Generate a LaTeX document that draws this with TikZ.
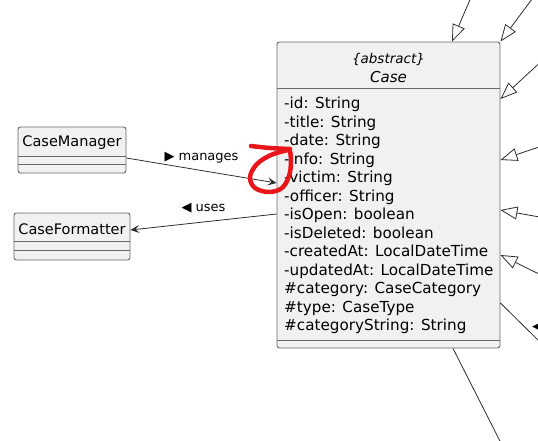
\documentclass[tikz,border=0pt]{standalone}
\usepackage{fontspec}
\setmainfont{DejaVu Sans}
\usepackage{tikz}
\usetikzlibrary{arrows.meta}

\definecolor{classfill}{RGB}{241,241,241}
\definecolor{classborder}{RGB}{105,105,105}
\definecolor{linkgray}{RGB}{45,45,45}
\definecolor{markred}{RGB}{232,22,27}

\begin{document}
\begin{tikzpicture}[x=1pt,y=-1pt,
		classbox/.style={shape=rectangle,draw=classborder,fill=classfill,rounded corners=2.5pt,line width=0.9pt,inner sep=0pt},
		classname/.style={font=\fontsize{14.5}{17}\selectfont,inner sep=0pt},
		compartment/.style={draw=classborder,line width=0.9pt},
		assoc/.style={draw=linkgray,line width=0.8pt,-{Stealth[length=9pt,width=8pt,inset=4pt]}},
		inherit/.style={draw=linkgray,line width=0.8pt,-{Triangle[length=17pt,width=13pt,fill=white]}},
		plainlink/.style={draw=linkgray,line width=0.8pt},
		linklabel/.style={font=\fontsize{13}{15}\selectfont,inner sep=1pt}]
			\clip (0,0) rectangle (538,441);

			% classes
			\node[classbox,minimum width=223pt,minimum height=306pt] (case) at (388.5,195) {};
			\node[classname,font=\fontsize{13.5}{16}\selectfont\itshape] (stereo) at (388.5,59) {\{abstract\}};
			\node[classname,font=\fontsize{15}{18}\selectfont\itshape] (casename) at (388.5,77) {Case};
			\node[anchor=north west,align=left,inner sep=0pt,font=\fontsize{15.2}{18.5}\selectfont] (fields) at (284,97)
				{-id: String\\-title: String\\-date: String\\-info: String\\-victim: String\\-officer: String\\-isOpen: boolean\\-isDeleted: boolean\\-createdAt: LocalDateTime\\-updatedAt: LocalDateTime\\\#category: CaseCategory\\\#type: CaseType\\\#categoryString: String};
			\draw[compartment] ([yshift=-47pt]case.north west) -- ([yshift=-47pt]case.north east);
			\draw[compartment] ([yshift=8pt]case.south west) -- ([yshift=8pt]case.south east);

			\node[classbox,minimum width=108pt,minimum height=46pt] (manager) at (72,150) {};
			\node[classname] (managername) at (72,143) {CaseManager};
			\draw[compartment] ([yshift=-30pt]manager.north west) -- ([yshift=-30pt]manager.north east);
			\draw[compartment] ([yshift=-38pt]manager.north west) -- ([yshift=-38pt]manager.north east);

			\node[classbox,minimum width=116pt,minimum height=47pt] (formatter) at (72,236.5) {};
			\node[classname] (formattername) at (72,229) {CaseFormatter};
			\draw[compartment] ([yshift=-29pt]formatter.north west) -- ([yshift=-29pt]formatter.north east);
			\draw[compartment] ([yshift=-38pt]formatter.north west) -- ([yshift=-38pt]formatter.north east);

			% associations
			\draw [assoc] ([yshift=-8pt]manager.east) -- node[linklabel,above=6pt] {▶ manages} ([yshift=12pt]case.west);
			\draw [assoc] ([yshift=-19pt]case.west) -- node[linklabel,above=8pt] {◀ uses} ([yshift=6.5pt]formatter.east);

			% subclasses and links outside the view
			\coordinate (sub1) at (472,-5);
			\coordinate (sub2) at (535,-5);
			\coordinate (sub3) at (545,58);
			\coordinate (sub4) at (545,145);
			\coordinate (sub5) at (545,218);
			\coordinate (sub6) at (545,277);
			\coordinate (link1) at (545,347);
			\coordinate (link2) at (505,451);

			\draw [inherit] (sub1) -- ([xshift=63.5pt]case.north);
			\draw [inherit] (sub2) -- (case.north east);
			\draw [inherit] (sub3) -- ([yshift=96pt]case.east);
			\draw [inherit] (sub4) -- ([yshift=35pt]case.east);
			\draw [inherit] (sub5) -- ([yshift=-15pt]case.east);
			\draw [inherit] (sub6) -- ([yshift=-60pt]case.east);
			\draw [plainlink] ([yshift=-108pt]case.east) -- (link1);
			\draw [plainlink] ([xshift=64.5pt]case.south) -- (link2);
			\node[linklabel,anchor=west,inner sep=0pt] (cutlabel) at (532,327) {◀};

			% red mark
			\draw[markred,line width=4.5pt,line cap=round,line join=round] plot[smooth,tension=0.6] coordinates {(251,146) (270,148) (290,149)};
			\draw[markred,line width=4.5pt,line cap=round,line join=round] plot[smooth,tension=0.6] coordinates {(288,150) (271,155) (257,164) (250,177) (255,188) (269,192) (282,188) (289,176) (291,162) (290,151)};
		\end{tikzpicture}
\end{document}
